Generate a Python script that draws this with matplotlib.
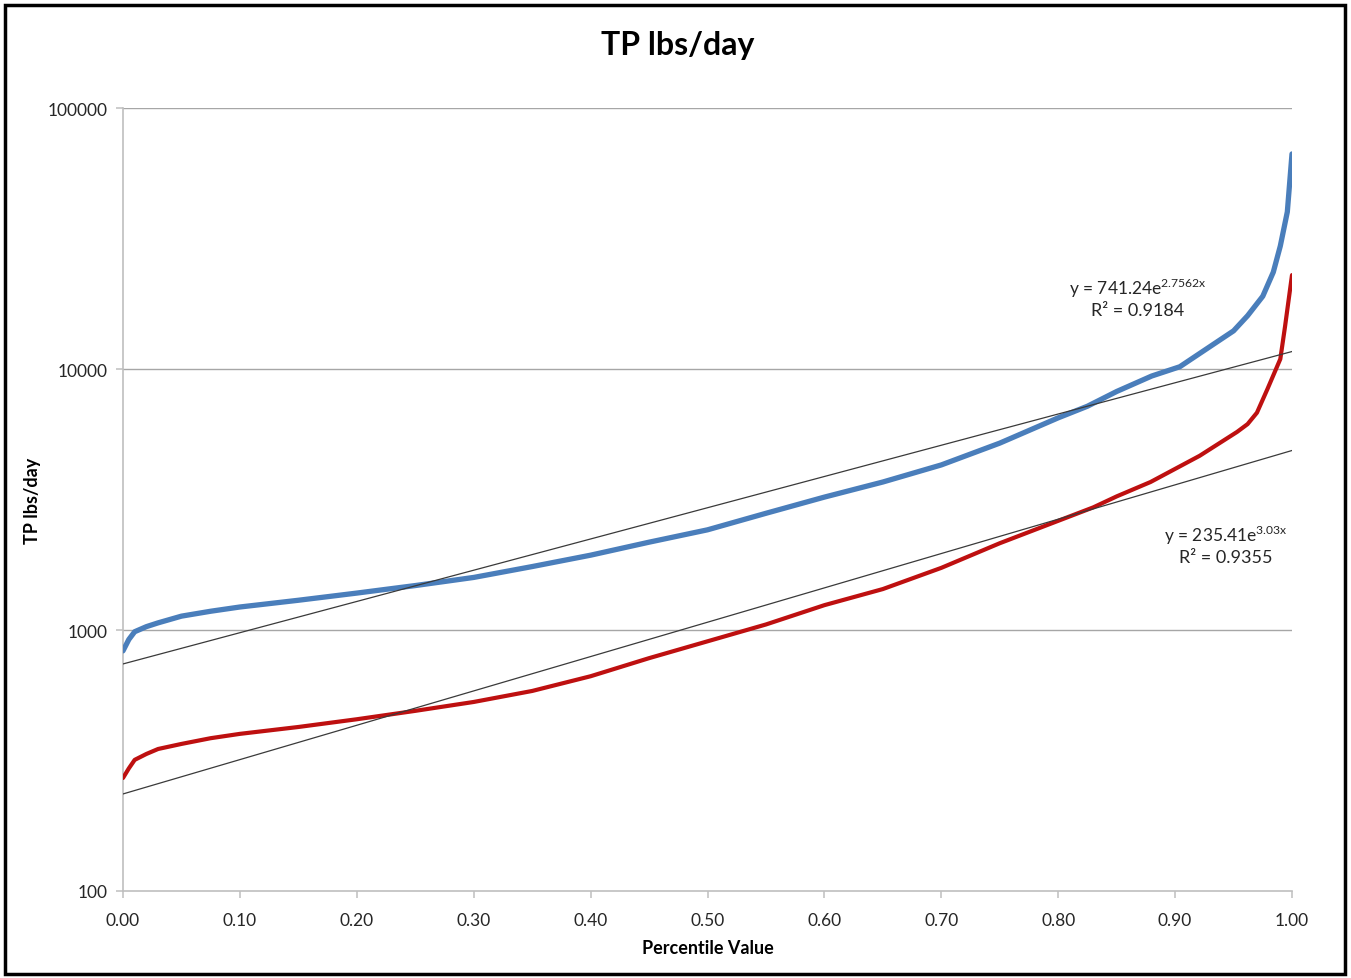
import matplotlib
matplotlib.use("Agg")
import matplotlib.pyplot as plt
import matplotlib.patches as mpatches
from matplotlib.ticker import FixedLocator, NullLocator
import numpy as np

plt.rcParams['font.family'] = ['Lato', 'DejaVu Sans']

# ---- data ----
pct_blue = [0.0, 0.005, 0.01, 0.02, 0.03, 0.05, 0.075, 0.10, 0.15, 0.20, 0.25,
            0.30, 0.35, 0.40, 0.45, 0.50, 0.55, 0.60, 0.65, 0.70, 0.75, 0.80,
            0.825, 0.85, 0.88, 0.904, 0.93, 0.95, 0.962, 0.975, 0.984, 0.99,
            0.996, 1.0]
blue_vals = [832, 920, 985, 1030, 1065, 1130, 1180, 1225, 1300, 1385, 1480,
             1590, 1750, 1935, 2170, 2420, 2800, 3230, 3690, 4290, 5200, 6500,
             7200, 8200, 9400, 10200, 12200, 14000, 16000, 19000, 23500, 29600,
             40000, 66700]
pct_red = [0.0, 0.005, 0.01, 0.02, 0.03, 0.05, 0.075, 0.10, 0.15, 0.20, 0.25,
           0.30, 0.35, 0.40, 0.45, 0.50, 0.55, 0.60, 0.65, 0.70, 0.75, 0.80,
           0.83, 0.85, 0.879, 0.921, 0.953, 0.962, 0.970, 0.979, 0.990, 0.994,
           1.0]
red_vals = [271, 295, 318, 335, 350, 366, 385, 400, 425, 455, 490,
            530, 584, 665, 780, 905, 1050, 1245, 1435, 1730, 2150, 2620,
            2950, 3250, 3690, 4650, 5740, 6150, 6800, 8380, 10920, 14500, 22900]

# exponential trendlines y = a * exp(b x)
blue_fit = (741.24, 2.7562)
red_fit = (235.41, 3.03)
blue_eq = ("741.24", "2.7562")
red_eq = ("235.41", "3.03")
blue_r2 = "0.9184"
red_r2 = "0.9355"

x_ticks = [0.0, 0.1, 0.2, 0.3, 0.4, 0.5, 0.6, 0.7, 0.8, 0.9, 1.0]
x_ticklabels = ["0.00", "0.10", "0.20", "0.30", "0.40", "0.50", "0.60",
                "0.70", "0.80", "0.90", "1.00"]
y_ticks = [100, 1000, 10000, 100000]
y_ticklabels = ["100", "1000", "10000", "100000"]

# ---- figure ----
W, H = 1351, 979
fig = plt.figure(figsize=(W / 100, H / 100), dpi=100)
ax = fig.add_axes([123 / W, 1 - 892 / H, (1292 - 123) / W, (892 - 109) / H])

ax.set_yscale('log')
ax.set_xlim(0, 1)
ax.set_ylim(100, 100000)

grid_c = '#a6a6a6'
for yv in y_ticks[1:]:
    ax.axhline(yv, color=grid_c, lw=1.0, zorder=1)

ax.plot(pct_blue, blue_vals, color='#4a7ebb', lw=3.8, solid_capstyle='round',
        solid_joinstyle='round', zorder=3)
ax.plot(pct_red, red_vals, color='#be1010', lw=3.0, solid_capstyle='round',
        solid_joinstyle='round', zorder=3)

xfine = np.linspace(0, 1, 50)
ax.plot(xfine, blue_fit[0] * np.exp(blue_fit[1] * xfine), color='#3a3a3a',
        lw=0.9, zorder=4)
ax.plot(xfine, red_fit[0] * np.exp(red_fit[1] * xfine), color='#3a3a3a',
        lw=0.9, zorder=4)

ax.xaxis.set_major_locator(FixedLocator(x_ticks))
ax.set_xticklabels(x_ticklabels)
ax.yaxis.set_major_locator(FixedLocator(y_ticks))
ax.yaxis.set_minor_locator(NullLocator())
ax.set_yticklabels(y_ticklabels)

for s in ['top', 'right']:
    ax.spines[s].set_visible(False)
for s in ['left', 'bottom']:
    ax.spines[s].set_color('#bfbfbf')
    ax.spines[s].set_linewidth(1.2)
ax.tick_params(axis='both', direction='out', length=5, width=1.1,
               color='#bfbfbf', labelsize=12.5, labelcolor='#262626')
ax.tick_params(axis='x', pad=10)
ax.tick_params(axis='y', pad=6)

ax.set_xlabel('Percentile Value', fontsize=13, fontweight='bold',
              labelpad=8)
ax.set_ylabel('TP lbs/day', fontsize=13, fontweight='bold', labelpad=5)
fig.text(678 / W, 1 - 45 / H, 'TP lbs/day', ha='center', va='center',
         fontsize=23, fontweight='bold')

fs_ann = 12.5
ax.text(1138 / W, 1 - 288 / H,
        'y = %se$^{\\mathregular{%sx}}$' % blue_eq,
        transform=fig.transFigure, ha='center', va='center', fontsize=fs_ann,
        color='#262626')
ax.text(1138 / W, 1 - 311 / H, 'R² = ' + blue_r2,
        transform=fig.transFigure, ha='center', va='center', fontsize=13,
        color='#262626')
ax.text(1226 / W, 1 - 535 / H,
        'y = %se$^{\\mathregular{%sx}}$' % red_eq,
        transform=fig.transFigure, ha='center', va='center', fontsize=fs_ann,
        color='#262626')
ax.text(1226 / W, 1 - 558 / H, 'R² = ' + red_r2,
        transform=fig.transFigure, ha='center', va='center', fontsize=13,
        color='#262626')

# chart border
fig.patches.append(mpatches.Rectangle((5 / W, 4 / H), (1345 - 5) / W,
                                      (973 - 4) / H, transform=fig.transFigure,
                                      fill=False, edgecolor='black', lw=2.5))

fig.savefig('out.png', dpi=100)
